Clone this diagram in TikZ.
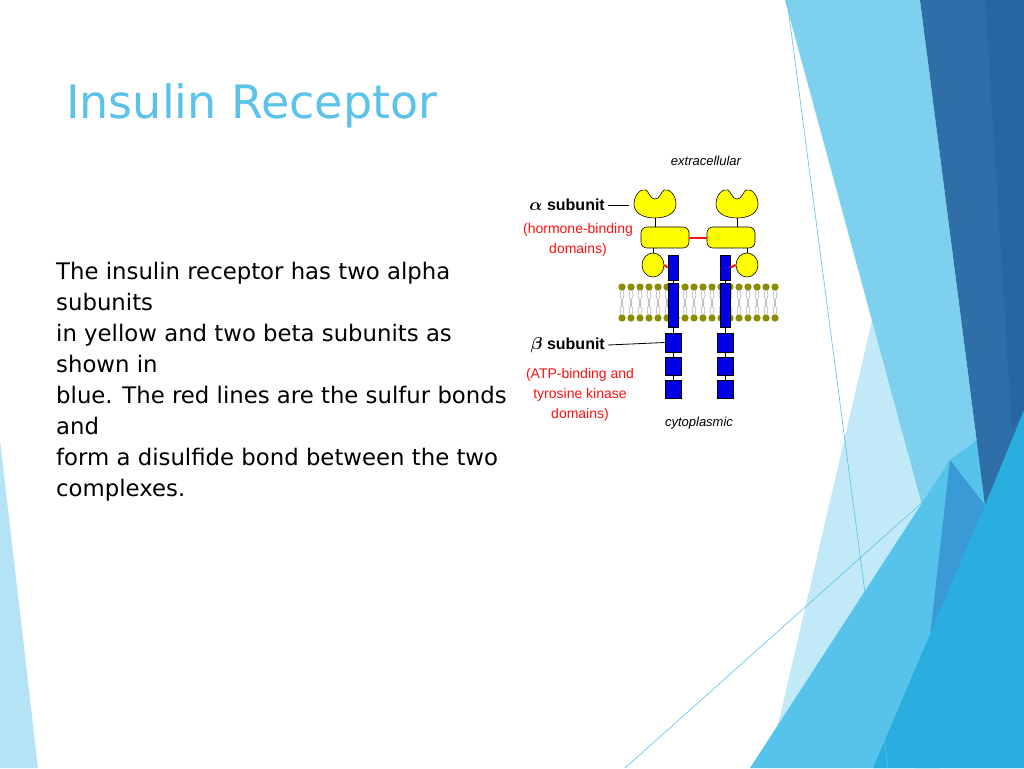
\documentclass[tikz,border=0pt]{standalone}
\usepackage{amsmath}
\usepackage{fontspec}
\setmainfont{DejaVu Sans}
\newfontfamily\labfont{Liberation Sans}
\usetikzlibrary{shapes.geometric}
\definecolor{ttl}{HTML}{5BC2EA}
\definecolor{yel}{HTML}{FFFF00}
\definecolor{blu}{HTML}{0000E6}
\definecolor{oli}{HTML}{8C8C00}
\definecolor{bondred}{HTML}{FF1010}
\definecolor{pale}{HTML}{C2E9F7}
\definecolor{band}{HTML}{7DD0EE}
\definecolor{lowb}{HTML}{56C3EA}
\definecolor{brb}{HTML}{2AAEE0}
\definecolor{dkb}{HTML}{2D6FA6}
\definecolor{dkb2}{HTML}{2567A0}
\definecolor{mdb}{HTML}{3A9AD6}
\tikzset{
  yelshape/.style={fill=yel,draw=black,line width=0.6pt},
  blubox/.style={fill=blu,draw=black,line width=0.6pt,inner sep=0pt,rectangle},
  lab/.style={font=\labfont\bfseries\fontsize{16}{18}\selectfont,inner sep=0pt},
  redlab/.style={font=\labfont\fontsize{14}{20}\selectfont,text=bondred,inner sep=0pt,align=center},
  itlab/.style={font=\labfont\itshape\fontsize{13}{15}\selectfont,inner sep=0pt},
  bondline/.style={color=bondred,line width=2pt},
  blkline/.style={color=black,line width=0.8pt}
}
\begin{document}
\begin{tikzpicture}[x=1pt,y=-1pt]
\useasboundingbox (0,0) rectangle (1024,768);
\fill[white] (0,0) rectangle (1024,768);
% background facets
\fill[ttl!45] (0,440) -- (38,768) -- (0,768) -- cycle;
\fill[pale] (900,200) -- (930,505) -- (852,768) -- (768,768) -- cycle;
\fill[band] (785,0) -- (920,0) -- (985,505) -- (922,505) -- cycle;
\fill[lowb] (750,768) -- (950,460) -- (1024,405) -- (1024,768) -- cycle;
\fill[mdb] (950,460) -- (985,505) -- (940,768) -- (915,768) -- cycle;
\fill[brb] (873,768) -- (985,505) -- (1024,410) -- (1024,768) -- cycle;
\fill[dkb] (920,0) -- (1024,0) -- (1024,410) -- (985,505) -- cycle;
\fill[dkb2] (985,0) -- (1024,0) -- (1024,410) -- (1012,430) -- cycle;
\draw[ttl,line width=0.6pt] (787,0) -- (888,768);
\draw[ttl,line width=0.6pt] (625,768) -- (925,500);
% title and text
\node[anchor=west,text=ttl,font=\fontsize{46}{50}\selectfont,inner sep=0pt] (title) at (66,106) {Insulin Receptor};
\node[anchor=north west,inner sep=0pt,align=left,font=\fontsize{22.8}{31}\selectfont] (body) at (56,262) {The insulin receptor has two alpha\\subunits\\in yellow and two beta subunits as\\shown in\\blue. The red lines are the sulfur bonds\\and\\form a disulfide bond between the two\\complexes.};
% membrane
\foreach \x in {622,631,...,776}{
  \draw[gray!70,line width=0.5pt] (\x-1,290) -- (\x-2,296) -- (\x,301) -- (\x-1,303);
  \draw[gray!70,line width=0.5pt] (\x+1,290) -- (\x+2,296) -- (\x,301) -- (\x+1,303);
  \draw[gray!70,line width=0.5pt] (\x-1,315) -- (\x-2,309) -- (\x,305) -- (\x-1,303);
  \draw[gray!70,line width=0.5pt] (\x+1,315) -- (\x+2,309) -- (\x,305) -- (\x+1,303);
  \fill[oli] (\x,287) circle (3.6);
  \fill[oli] (\x,318) circle (3.6);
}
% receptors
\foreach \s/\cx/\mx/\ex/\bx in {L/655/665/653/673,R/737/731/747/725}{
  \filldraw[yelshape] (\cx,199) .. controls (\cx-5,199) and (\cx-6,192) .. (\cx-9,190)
     .. controls (\cx-15,188) and (\cx-21,196) .. (\cx-21,204)
     .. controls (\cx-21,213) and (\cx-12,218) .. (\cx,218)
     .. controls (\cx+12,218) and (\cx+21,213) .. (\cx+21,204)
     .. controls (\cx+21,196) and (\cx+15,188) .. (\cx+9,190)
     .. controls (\cx+6,192) and (\cx+5,199) .. (\cx,199) -- cycle;
  \node[yelshape,rounded corners=6pt,minimum width=48pt,minimum height=21pt,inner sep=0pt] (mid\s) at (\mx,237.5) {};
  \node[yelshape,ellipse,minimum width=22pt,minimum height=24pt,inner sep=0pt] (sm\s) at (\ex,265) {};
  \node[blubox,minimum width=10pt,minimum height=25pt] (b1\s) at (\bx,267.5) {};
  \node[blubox,minimum width=10pt,minimum height=44pt] (b2\s) at (\bx,305) {};
  \node[blubox,minimum width=16pt,minimum height=19pt] (b3\s) at (\bx,342.5) {};
  \node[blubox,minimum width=16pt,minimum height=18pt] (b4\s) at (\bx,366) {};
  \node[blubox,minimum width=16pt,minimum height=18pt] (b5\s) at (\bx,389) {};
  \draw[blkline] (\cx,218) -- (\cx,227);
  \draw[blkline] (b1\s) -- (b2\s); \draw[blkline] (b2\s) -- (b3\s);
  \draw[blkline] (b3\s) -- (b4\s); \draw[blkline] (b4\s) -- (b5\s);
}
\draw[bondline] (smL.east) -- (b1L.west);
\draw[bondline] (b1R.east) -- (smR.west);
\draw[blkline] (653,248) -- (smL.north);
\draw[blkline] (747,248) -- (smR.north);
\draw[bondline] (midL.east) -- (midR.west);
% labels
\node[itlab] (ext) at (706,161) {extracellular};
\node[itlab] (cyt) at (699,423) {cytoplasmic};
\node[lab,anchor=east] (alab) at (605,205) {$\boldsymbol\alpha$ subunit};
\coordinate (aend) at (629,205);
\draw[blkline] ([xshift=3pt]alab.east) -- (aend);
\node[redlab] (hb) at (578,240) {(hormone-binding\\domains)};
\node[lab,anchor=east] (blab) at (605,345) {$\boldsymbol\beta$ subunit};
\draw[blkline] ([xshift=3pt]blab.east) -- (b3L.west);
\node[redlab] (atp) at (580,395) {(ATP-binding and\\tyrosine kinase\\domains)};
\end{tikzpicture}
\end{document}
